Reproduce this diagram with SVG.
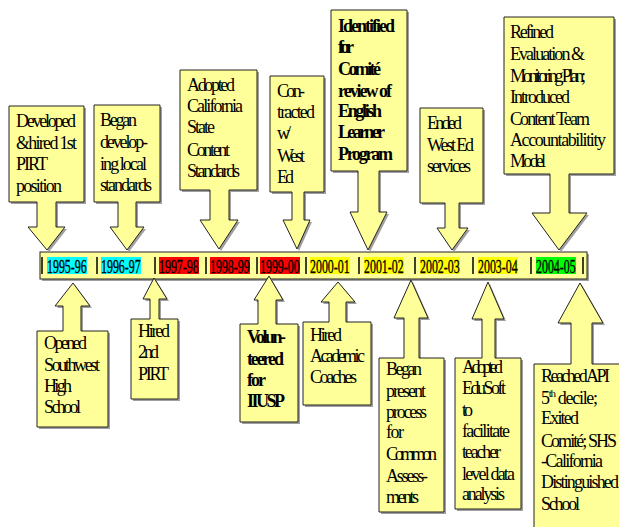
<svg xmlns="http://www.w3.org/2000/svg" width="619" height="527" viewBox="0 0 619 527">
<style>
.sh{fill:#a0a0a0;stroke:none}
.co{fill:#ffff99;stroke:#222;stroke-width:1}
.t{font-family:'Liberation Serif','Times New Roman',serif;font-size:18px;fill:#000}
.b{font-weight:bold}
.yr{font-family:'Liberation Serif','Times New Roman',serif;font-size:18px;fill:#000;stroke:#000;stroke-width:0.35}
.sep{stroke:#000;stroke-width:1.5}
</style>
<rect width="619" height="527" fill="#fff"/>
<g id="timeline">
<rect class="sh" x="42" y="254" width="547" height="27"/>
<rect class="co" x="40" y="252" width="547" height="27"/>
<g id="years">
<rect x="47" y="257" width="40" height="17" fill="#00ffff"/>
<rect x="101" y="257" width="40" height="17" fill="#00ffff"/>
<rect x="159" y="257" width="40" height="17" fill="#ff0000"/>
<rect x="210" y="257" width="40" height="17" fill="#ff0000"/>
<rect x="260" y="257" width="40" height="17" fill="#ff0000"/>
<rect x="310" y="257" width="40" height="17" fill="#ffff00"/>
<rect x="364" y="257" width="40" height="17" fill="#ffff00"/>
<rect x="420" y="257" width="40" height="17" fill="#ffff00"/>
<rect x="478" y="257" width="40" height="17" fill="#ffff00"/>
<rect x="536" y="257" width="40" height="17" fill="#00ff00"/>
<text class="yr" transform="translate(47,273) scale(0.66,1)">1995-96</text>
<text class="yr" transform="translate(101,273) scale(0.66,1)">1996-97</text>
<text class="yr" transform="translate(159,273) scale(0.66,1)">1997-98</text>
<text class="yr" transform="translate(210,273) scale(0.66,1)">1998-99</text>
<text class="yr" transform="translate(260,273) scale(0.66,1)">1999-00</text>
<text class="yr" transform="translate(310,273) scale(0.66,1)">2000-01</text>
<text class="yr" transform="translate(364,273) scale(0.66,1)">2001-02</text>
<text class="yr" transform="translate(420,273) scale(0.66,1)">2002-03</text>
<text class="yr" transform="translate(478,273) scale(0.66,1)">2003-04</text>
<text class="yr" transform="translate(536,273) scale(0.66,1)">2004-05</text>
</g>
<g id="separators">
<line class="sep" x1="42" y1="257" x2="42" y2="274"/>
<line class="sep" x1="97" y1="257" x2="97" y2="274"/>
<line class="sep" x1="155" y1="257" x2="155" y2="274"/>
<line class="sep" x1="206" y1="257" x2="206" y2="274"/>
<line class="sep" x1="257" y1="257" x2="257" y2="274"/>
<line class="sep" x1="306" y1="257" x2="306" y2="274"/>
<line class="sep" x1="359" y1="257" x2="359" y2="274"/>
<line class="sep" x1="415" y1="257" x2="415" y2="274"/>
<line class="sep" x1="473" y1="257" x2="473" y2="274"/>
<line class="sep" x1="531" y1="257" x2="531" y2="274"/>
<line class="sep" x1="583" y1="257" x2="583" y2="274"/>
</g>
</g>
<g id="connectors"></g>
<g id="t1">
<path class="sh" transform="translate(2,2)" d="M9 106 H84 V202 H56 V227 H65 L47 250 L28 227 H37 V202 H9 Z"/>
<path class="co" d="M9 106 H84 V202 H56 V227 H65 L47 250 L28 227 H37 V202 H9 Z"/>
<text class="t" x="16" y="127" textLength="60">Developed</text>
<text class="t" x="16" y="149" textLength="61">&amp;hired 1st</text>
<text class="t" x="16" y="170" textLength="32">PIRT</text>
<text class="t" x="16" y="192" textLength="46">position</text>
</g>
<g id="t2">
<path class="sh" transform="translate(2,2)" d="M94 105 H160 V202 H136 V227 H144 L127 250 L110 227 H118 V202 H94 Z"/>
<path class="co" d="M94 105 H160 V202 H136 V227 H144 L127 250 L110 227 H118 V202 H94 Z"/>
<text class="t" x="100" y="126" textLength="37">Began</text>
<text class="t" x="100" y="148" textLength="48">develop-</text>
<text class="t" x="100" y="170" textLength="47">ing local</text>
<text class="t" x="100" y="191" textLength="52">standards</text>
</g>
<g id="t3">
<path class="sh" transform="translate(2,2)" d="M180 70 H257 V190 H229 V220 H238 L219 249 L200 220 H210 V190 H180 Z"/>
<path class="co" d="M180 70 H257 V190 H229 V220 H238 L219 249 L200 220 H210 V190 H180 Z"/>
<text class="t" x="187" y="91" textLength="48">Adopted</text>
<text class="t" x="187" y="112" textLength="56">California</text>
<text class="t" x="187" y="133" textLength="28">State</text>
<text class="t" x="187" y="156" textLength="43">Content</text>
<text class="t" x="187" y="177" textLength="53">Standards</text>
</g>
<g id="t4">
<path class="sh" transform="translate(2,2)" d="M270 76 H324 V192 H304 V220 H310 L297 249 L283 220 H292 V192 H270 Z"/>
<path class="co" d="M270 76 H324 V192 H304 V220 H310 L297 249 L283 220 H292 V192 H270 Z"/>
<text class="t" x="277" y="97" textLength="28">Con-</text>
<text class="t" x="277" y="118" textLength="38">tracted</text>
<text class="t" x="277" y="139" textLength="14">w/</text>
<text class="t" x="277" y="162" textLength="28">West</text>
<text class="t" x="277" y="183" textLength="17">Ed</text>
</g>
<g id="t5">
<path class="sh" transform="translate(2,2)" d="M331 10 H407 V171 H379 V212 H387 L368 250 L350 212 H358 V171 H331 Z"/>
<path class="co" d="M331 10 H407 V171 H379 V212 H387 L368 250 L350 212 H358 V171 H331 Z"/>
<text class="t b" x="338" y="32" textLength="57">Identified</text>
<text class="t b" x="338" y="53" textLength="16">for</text>
<text class="t b" x="338" y="75" textLength="43">Comité</text>
<text class="t b" x="338" y="97" textLength="54">review of</text>
<text class="t b" x="338" y="117" textLength="44">English</text>
<text class="t b" x="338" y="138" textLength="47">Learner</text>
<text class="t b" x="338" y="160" textLength="55">Program</text>
</g>
<g id="t6">
<path class="sh" transform="translate(2,2)" d="M420 108 H483 V203 H459 V228 H468 L452 250 L437 228 H445 V203 H420 Z"/>
<path class="co" d="M420 108 H483 V203 H459 V228 H468 L452 250 L437 228 H445 V203 H420 Z"/>
<text class="t" x="427" y="129" textLength="35">Ended</text>
<text class="t" x="427" y="151" textLength="47">West Ed</text>
<text class="t" x="427" y="172" textLength="44">services</text>
</g>
<g id="t7">
<path class="sh" transform="translate(2,2)" d="M504 17 H614 V174 H569 V213 H587 L559 250 L532 213 H550 V174 H504 Z"/>
<path class="co" d="M504 17 H614 V174 H569 V213 H587 L559 250 L532 213 H550 V174 H504 Z"/>
<text class="t" x="510" y="38" textLength="44">Refined</text>
<text class="t" x="510" y="60" textLength="75">Evaluation &amp;</text>
<text class="t" x="510" y="82" textLength="76">Monitoring Plan;</text>
<text class="t" x="510" y="103" textLength="60">Introduced</text>
<text class="t" x="510" y="125" textLength="80">Content Team</text>
<text class="t" x="510" y="146" textLength="96">Accountabilitity</text>
<text class="t" x="510" y="167" textLength="36">Model</text>
</g>
<g id="b1">
<path class="sh" transform="translate(2,2)" d="M73 283 L90 306 H81 V331 H108 V427 H37 V331 H63 V306 H55 Z"/>
<path class="co" d="M73 283 L90 306 H81 V331 H108 V427 H37 V331 H63 V306 H55 Z"/>
<text class="t" x="44" y="349" textLength="43">Opened</text>
<text class="t" x="44" y="371" textLength="56">Southwest</text>
<text class="t" x="44" y="392" textLength="28">High</text>
<text class="t" x="44" y="413" textLength="37">School</text>
</g>
<g id="b2">
<path class="sh" transform="translate(2,2)" d="M154 278 L167 299 H159 V319 H178 V399 H131 V319 H150 V299 H143 Z"/>
<path class="co" d="M154 278 L167 299 H159 V319 H178 V399 H131 V319 H150 V299 H143 Z"/>
<text class="t" x="138" y="337" textLength="32">Hired</text>
<text class="t" x="138" y="358" textLength="21">2nd</text>
<text class="t" x="138" y="380" textLength="31">PIRT</text>
</g>
<g id="b3">
<path class="sh" transform="translate(2,2)" d="M269 276 L283 300 H276 V324 H298 V422 H240 V324 H258 V300 H254 Z"/>
<path class="co" d="M269 276 L283 300 H276 V324 H298 V422 H240 V324 H258 V300 H254 Z"/>
<text class="t b" x="247" y="343" textLength="39">Volun-</text>
<text class="t b" x="247" y="365" textLength="37">teered</text>
<text class="t b" x="247" y="386" textLength="19">for</text>
<text class="t b" x="247" y="407" textLength="38">IIUSP</text>
</g>
<g id="b4">
<path class="sh" transform="translate(2,2)" d="M338 282 L355 302 H346 V322 H371 V405 H303 V322 H329 V302 H321 Z"/>
<path class="co" d="M338 282 L355 302 H346 V322 H371 V405 H303 V322 H329 V302 H321 Z"/>
<text class="t" x="310" y="341" textLength="32">Hired</text>
<text class="t" x="310" y="362" textLength="55">Academic</text>
<text class="t" x="310" y="383" textLength="47">Coaches</text>
</g>
<g id="b5">
<path class="sh" transform="translate(2,2)" d="M411 280 L428 318 H419 V358 H444 V512 H379 V358 H404 V318 H394 Z"/>
<path class="co" d="M411 280 L428 318 H419 V358 H444 V512 H379 V358 H404 V318 H394 Z"/>
<text class="t" x="386" y="375" textLength="36">Began</text>
<text class="t" x="386" y="397" textLength="40">present</text>
<text class="t" x="386" y="418" textLength="41">process</text>
<text class="t" x="386" y="438" textLength="18">for</text>
<text class="t" x="386" y="460" textLength="51">Common</text>
<text class="t" x="386" y="482" textLength="42">Assess-</text>
<text class="t" x="386" y="503" textLength="33">ments</text>
</g>
<g id="b6">
<path class="sh" transform="translate(2,2)" d="M488 282 L504 319 H495 V358 H521 V509 H455 V358 H482 V319 H472 Z"/>
<path class="co" d="M488 282 L504 319 H495 V358 H521 V509 H455 V358 H482 V319 H472 Z"/>
<text class="t" x="462" y="373" textLength="41">Adopted</text>
<text class="t" x="462" y="394" textLength="44">EduSoft</text>
<text class="t" x="462" y="416" textLength="11">to</text>
<text class="t" x="462" y="437" textLength="48">facilitate</text>
<text class="t" x="462" y="458" textLength="39">teacher</text>
<text class="t" x="462" y="480" textLength="53">level data</text>
<text class="t" x="462" y="500" textLength="43">analysis</text>
</g>
<g id="b7">
<path class="sh" transform="translate(2,2)" d="M580 283 L603 323 H592 V364 H625 V535 H534 V364 H571 V323 H558 Z"/>
<path class="co" d="M580 283 L603 323 H592 V364 H625 V535 H534 V364 H571 V323 H558 Z"/>
<text class="t" x="541" y="382" textLength="69">Reached API</text>
<text class="t" x="541" y="404" letter-spacing="-1.3">5<tspan font-size="11" dy="-7">th</tspan><tspan dy="7"> decile;</tspan></text>
<text class="t" x="541" y="424" textLength="38">Exited</text>
<text class="t" x="541" y="447" textLength="76">Comité; SHS</text>
<text class="t" x="541" y="467" textLength="62">-California</text>
<text class="t" x="541" y="488" textLength="78">Distinguished</text>
<text class="t" x="541" y="510" textLength="39">School</text>
</g>
</svg>
